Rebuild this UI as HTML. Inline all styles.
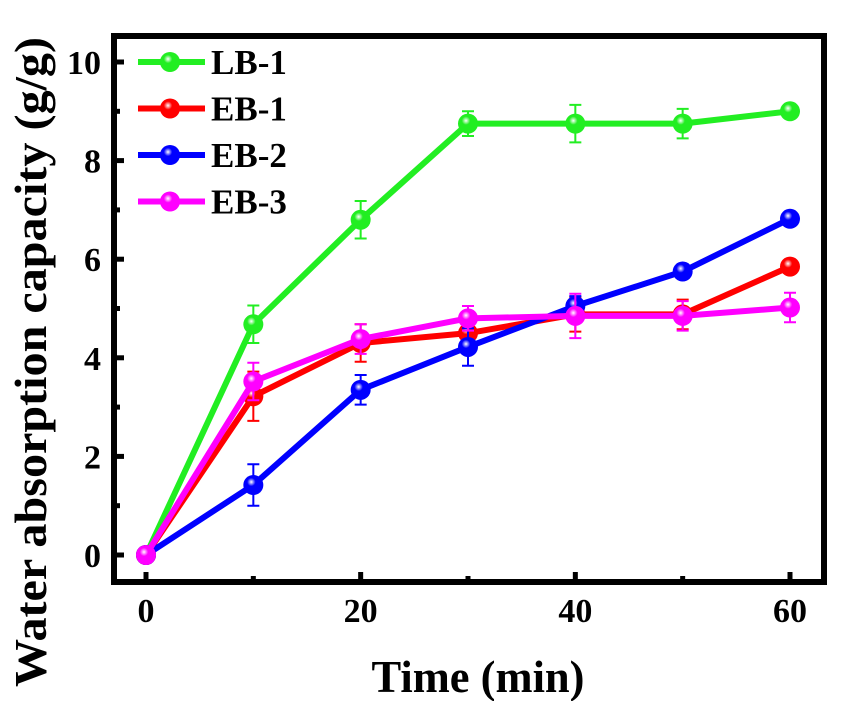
<!DOCTYPE html>
<html><head><meta charset="utf-8"><style>
body{margin:0;background:#fff;}
svg{display:block;font-family:"Liberation Serif",serif;font-weight:bold;}
</style></head><body>
<svg width="850" height="701">
<defs>
<radialGradient id="gl" cx="0.4" cy="0.35" r="0.6"><stop offset="0" stop-color="#fff"/><stop offset="0.35" stop-color="#fff" stop-opacity="0"/></radialGradient>
</defs>
<g id="plot"></g>
<rect x="114" y="36" width="710" height="546" fill="none" stroke="#000" stroke-width="6"/>
<text x="478" y="692" text-anchor="middle" font-size="46" textLength="213" lengthAdjust="spacingAndGlyphs">Time (min)</text>
<text transform="translate(46,362) rotate(-90)" text-anchor="middle" font-size="46" textLength="650" lengthAdjust="spacingAndGlyphs">Water absorption capacity (g/g)</text>
</svg>
<script>
const times=[0,10,20,30,40,50,60];
const xTicks=[0,20,40,60];
const yTicks=[0,2,4,6,8,10];
const seriesNames=["LB-1","EB-1","EB-2","EB-3"];
const seriesColors=["#22ee22","#ff0000","#0000ff","#ff00ff"];
const lb1=[0,4.68,6.8,8.75,8.75,8.75,9.0];
const eb1=[0,3.22,4.3,4.5,4.88,4.88,5.85];
const eb2=[0,1.42,3.35,4.22,5.05,5.75,6.82];
const eb3=[0,3.52,4.38,4.8,4.85,4.85,5.02];
const lb1Err=[0,0.38,0.38,0.25,0.38,0.3,0.1];
const eb1Err=[0,0.5,0.38,0.3,0.35,0.3,0.1];
const eb2Err=[0,0.42,0.3,0.38,0.2,0.1,0.1];
const eb3Err=[0,0.38,0.3,0.25,0.45,0.3,0.3];
const allVals=[lb1,eb1,eb2,eb3];
const allErr=[lb1Err,eb1Err,eb2Err,eb3Err];
const X=v=>146+v*(790-146)/60;
const Y=v=>555-v*(555-62)/10;
const NS="http://www.w3.org/2000/svg";
const g=document.getElementById('plot');
function mk(t,a,p){const e=document.createElementNS(NS,t);for(const k in a)e.setAttribute(k,a[k]);(p||g).appendChild(e);return e;}
xTicks.forEach(t=>{
 const l=mk('line',{x1:X(t),x2:X(t),y1:582,y2:572,stroke:'#000','stroke-width':5});
 
 
 const tx=mk('text',{x:X(t),y:622,'text-anchor':'middle','font-size':34});tx.textContent=t;
 
 
});
[10,30,50].forEach(t=>{const l=mk('line',{x1:X(t),x2:X(t),y1:582,y2:576,stroke:'#000','stroke-width':5});
 
 });
yTicks.forEach(t=>{
 const l=mk('line',{x1:114,x2:124,y1:Y(t),y2:Y(t),stroke:'#000','stroke-width':5});
 
 
 const tx=mk('text',{x:101,y:Y(t)+12,'text-anchor':'end','font-size':34});tx.textContent=t;
 
 
});
[1,3,5,7,9].forEach(t=>{const l=mk('line',{x1:114,x2:120,y1:Y(t),y2:Y(t),stroke:'#000','stroke-width':5});
 
 });
allVals.forEach((vals,si)=>{
 const c=seriesColors[si];
 const sg=mk('g',{});
 
 
 const pl=mk('polyline',{points:vals.map((v,i)=>X(times[i])+','+Y(v)).join(' '),fill:'none',stroke:c,'stroke-width':6,'stroke-linejoin':'round'},sg);
 
 
 vals.forEach((v,i)=>{
  const e=allErr[si][i];
  if(e>0){
   const x=X(times[i]);
   const eb=mk('path',{d:`M${x},${Y(v+e)}V${Y(v-e)}M${x-6},${Y(v+e)}H${x+6}M${x-6},${Y(v-e)}H${x+6}`,stroke:c,'stroke-width':2,fill:'none'},sg);
   
   
  }
 });
 vals.forEach((v,i)=>{
  const p=mk('circle',{cx:X(times[i]),cy:Y(v),r:10,fill:c},sg);
  
  
  mk('circle',{cx:X(times[i]),cy:Y(v),r:10,fill:'url(#gl)'},sg);
 });
 const ly=62+si*46.5;
 const lg=mk('g',{});
 
 
 mk('line',{x1:138,x2:205,y1:ly,y2:ly,stroke:c,'stroke-width':6},lg);
 mk('circle',{cx:170,cy:ly,r:10,fill:c},lg);
 mk('circle',{cx:170,cy:ly,r:10,fill:'url(#gl)'},lg);
 const t=mk('text',{x:211,y:ly+12,'font-size':35},lg);t.textContent=seriesNames[si];
});
</script>
</body></html>
